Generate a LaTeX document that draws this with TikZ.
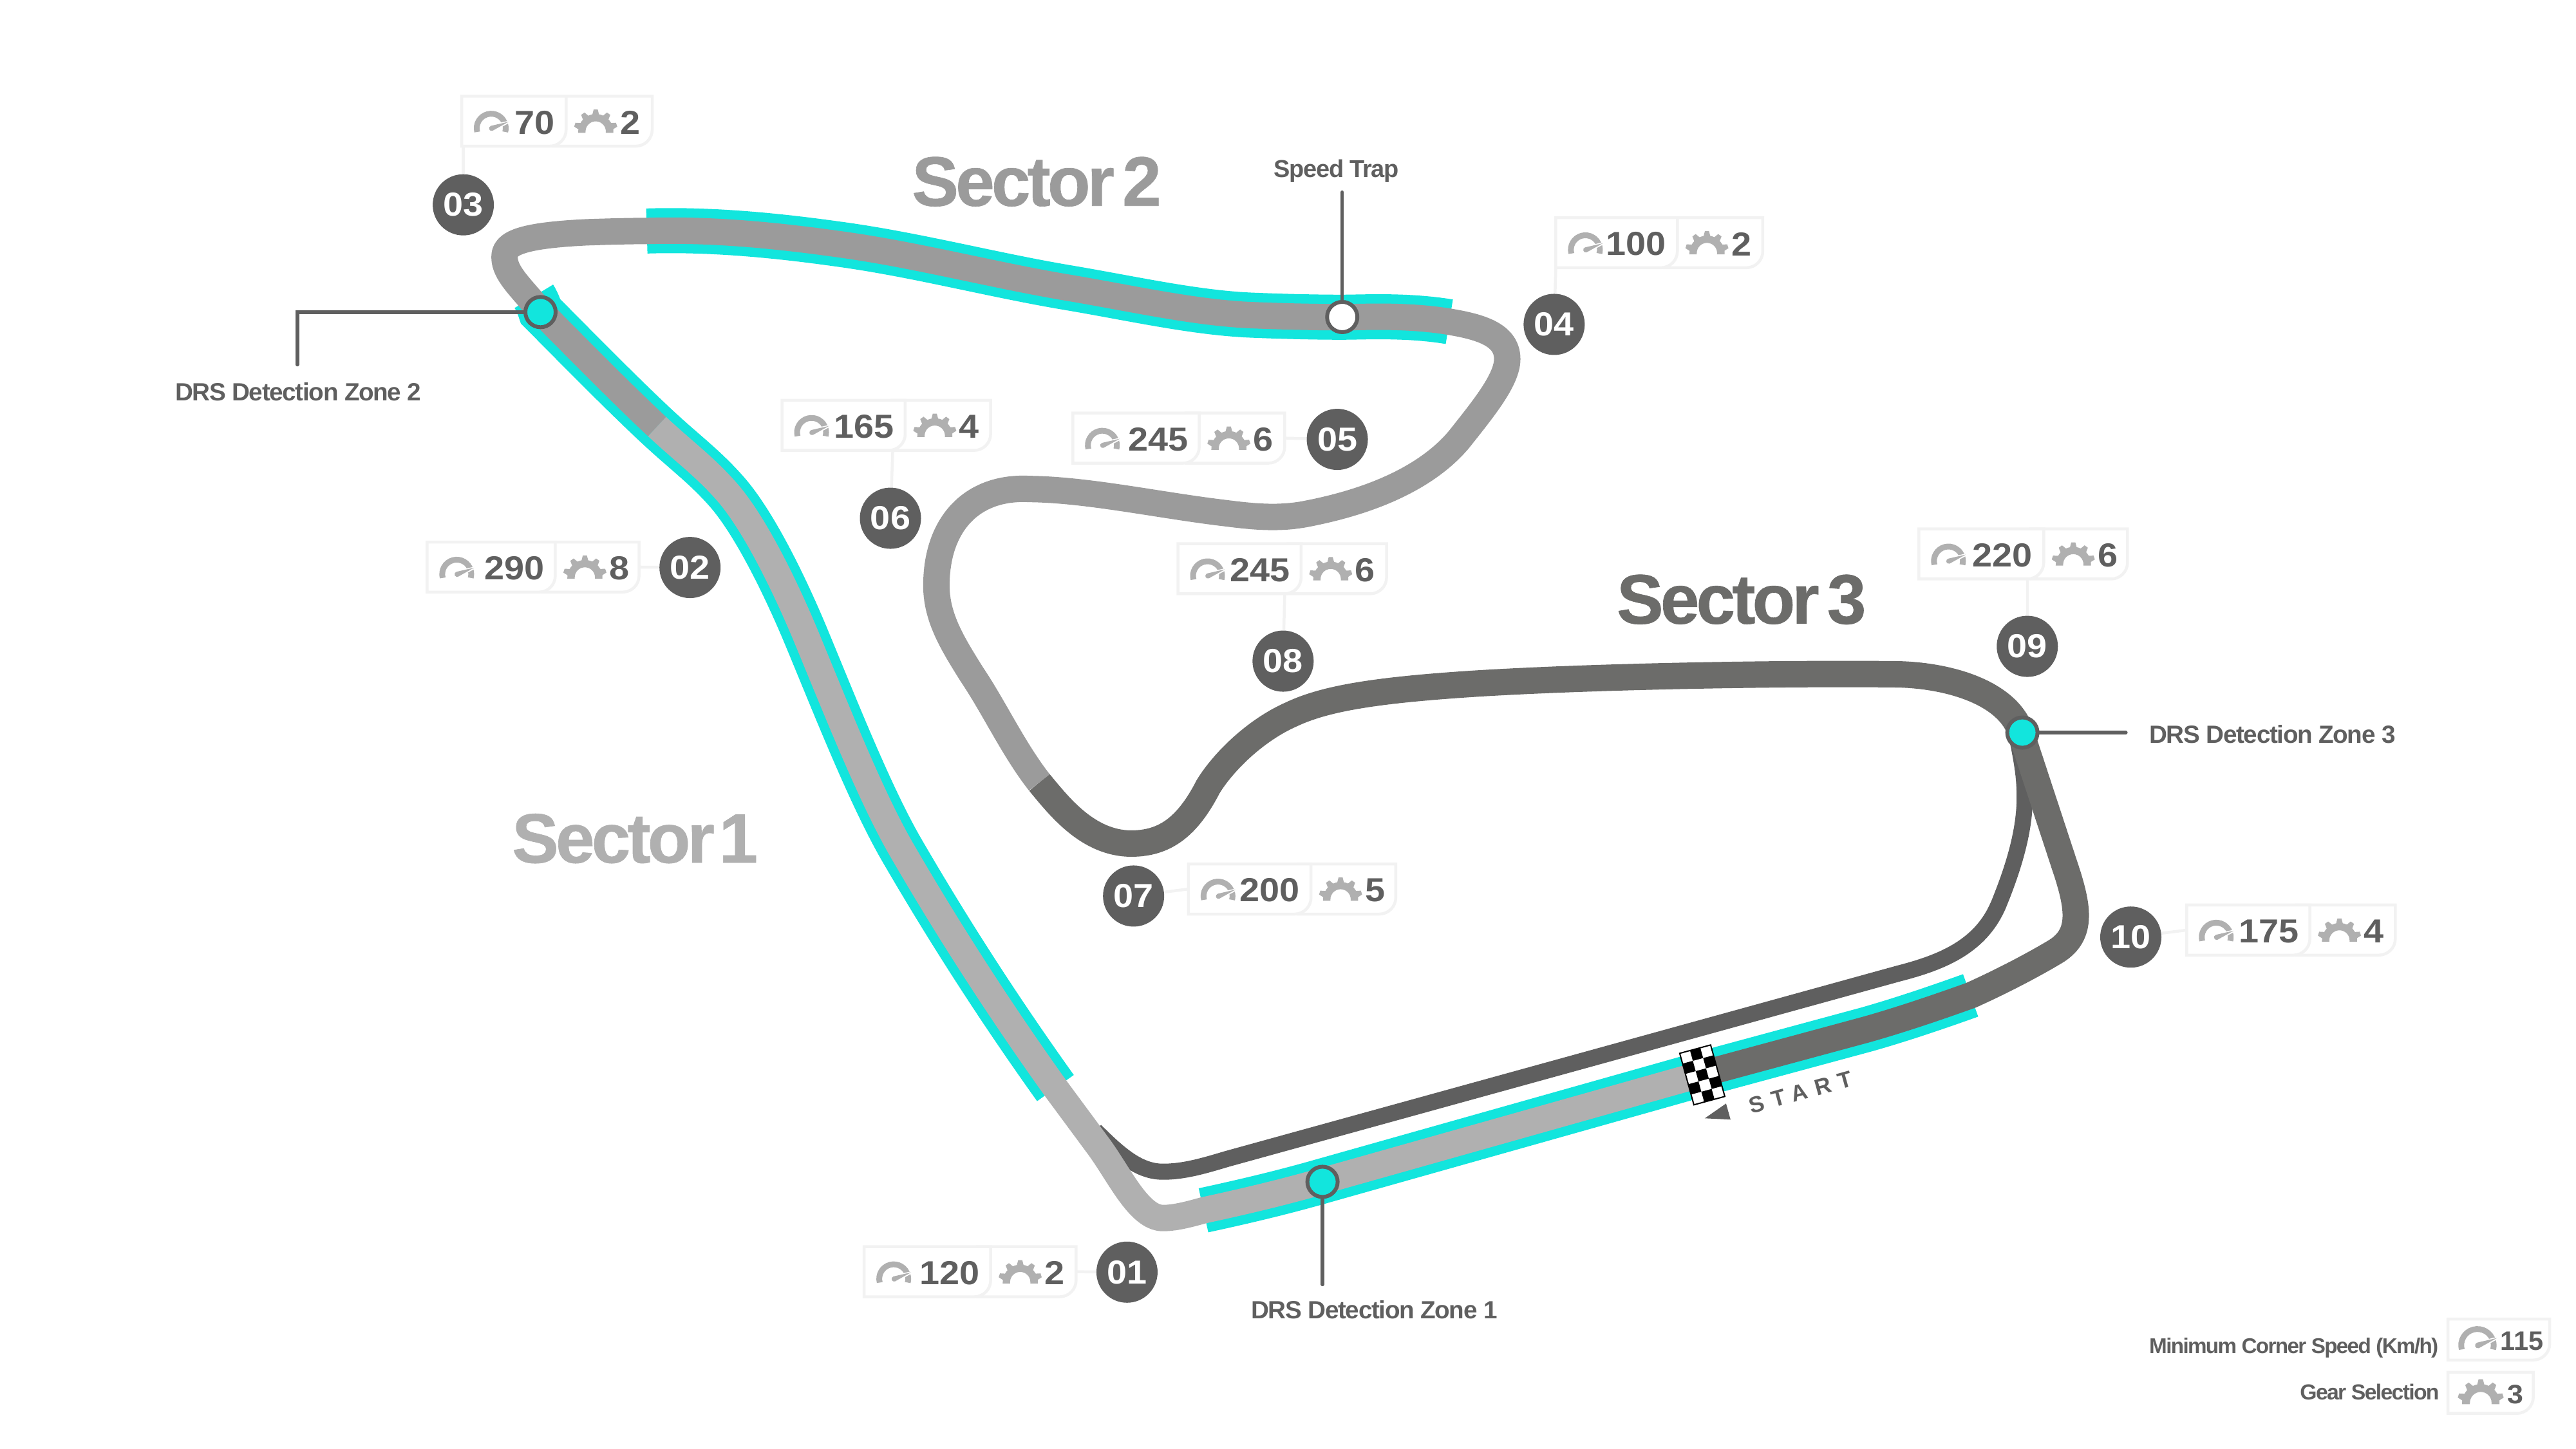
\documentclass[tikz,border=0pt]{standalone}
\usepackage{fontspec}
\setmainfont{Liberation Sans}
\newfontfamily\numf{Liberation Sans}[FakeStretch=1.08]
\newfontfamily\labf{Liberation Sans}[LetterSpace=-3.5]
\newfontfamily\legf{Liberation Sans}[LetterSpace=-5]
\newfontfamily\secf{Liberation Sans}[LetterSpace=-4.5,BoldFeatures={FakeBold=0.6}]
\newfontfamily\startf{Liberation Sans}[LetterSpace=36]
\definecolor{drs}{HTML}{12E5DD}
\definecolor{secA}{HTML}{B0B0B0}
\definecolor{secB}{HTML}{9B9B9B}
\definecolor{secC}{HTML}{6C6C6A}
\definecolor{dk}{HTML}{5F5F5F}
\definecolor{boxc}{HTML}{F2F2F2}
\tikzset{
  track/.style={line width=0.41cm,line cap=butt,line join=round},
  pitlane/.style={line width=0.25cm,line cap=butt,line join=round,draw=dk},
  drszone/.style={line width=0.70cm,draw=drs,line cap=butt},
  boxline/.style={draw=boxc,line width=0.045cm,fill=white},
  lead/.style={draw=boxc,line width=0.045cm},
  callout/.style={draw=dk,line width=0.055cm,line cap=round},
  turn/.style={circle,fill=dk,text=white,minimum size=0.95cm,inner sep=0pt,font=\numf\bfseries\fontsize{14.7}{16}\selectfont},
  marker/.style={circle,draw=dk,line width=0.06cm,minimum size=0.47cm,inner sep=0pt},
  num/.style={inner sep=0pt,text=dk,font=\numf\bfseries\fontsize{14.7}{16}\selectfont},
  lab/.style={inner sep=0pt,text=dk,font=\labf\bfseries\fontsize{10.8}{12}\selectfont},
  drslab/.style={inner sep=0pt,text=dk,font=\labf\bfseries\fontsize{11}{12}\selectfont},
  leg/.style={inner sep=0pt,text=dk,font=\legf\bfseries\fontsize{9.6}{11}\selectfont},
  sector/.style={inner sep=0pt,font=\secf\bfseries\fontsize{31}{33}\selectfont},
  pics/gauge/.style={code={
    \draw[secA,line width=0.09cm] (195:0.225cm) arc (195:-15:0.225cm);
    \draw[white,line width=0.03cm,fill=secA] (0.01cm,0.04cm) -- (0.29cm,0.105cm) -- (0.02cm,-0.04cm) -- cycle;
    \fill[secA] (0.01cm,0.04cm) -- (0.27cm,0.10cm) -- (0.02cm,-0.04cm) arc (-70:-250:0.04cm) -- cycle;
  }},
  pics/gear/.style={code={
    \fill[secA] (-0.26cm,-0.02cm) -- (-0.15cm,-0.02cm) -- (-0.15cm,0cm) arc (180:0:0.15cm) -- (0.15cm,-0.02cm) -- (0.26cm,-0.02cm) -- (0.26cm,0.03cm) arc (7:173:0.26cm) -- cycle;
    \foreach \a in {18,54,90,126,162}{
      \fill[secA,rotate=\a] (0.23cm,-0.055cm) -- (0.325cm,-0.03cm) -- (0.325cm,0.03cm) -- (0.23cm,0.055cm) -- cycle;
    }
  }}
}
\newcommand{\cellbox}[4]{%
  \pgfmathsetmacro{\cyA}{#4-10}\pgfmathsetmacro{\cyB}{#4-4.5}%
  \pgfmathsetmacro{\cxA}{#2-10}\pgfmathsetmacro{\cxB}{#2-4.5}%
  \draw[boxline] (#1,#3) -- (#2,#3) -- (#2,\cyA) .. controls (#2,\cyB) and (\cxB,#4) .. (\cxA,#4) -- (#1,#4) -- cycle;
}
% id, x0, xm, x1, ytop, speed, gear
\newcommand{\badge}[7]{%
  \pgfmathsetmacro{\yb}{#5+30.5}%
  \pgfmathsetmacro{\ym}{#5+15.25}%
  \pgfmathsetmacro{\xq}{#3-8}%
  \cellbox{\xq}{#4}{#5}{\yb}
  \cellbox{#2}{#3}{#5}{\yb}
  \coordinate (b#1r) at (#4,\ym);
  \coordinate (b#1l) at (#2,\ym);
  \pic at ({#2+18},{\ym+4.3}) {gauge};
  \pic[scale=1.05] at ({#3+18},{\ym+6.3}) {gear};
  \node[num,anchor=east] (s#1) at ({#3-6.5},{\ym+0.8}) {#6};
  \node[num] (g#1) at ({#3+39},{\ym+0.8}) {#7};
}
\begin{document}
\begin{tikzpicture}[x=0.025517cm,y=-0.025517cm]
\useasboundingbox (0,0) rectangle (1568,882.1);
\begin{scope}[x=0.01cm,y=-0.01cm]
% DRS zones
\draw[drszone] (3062,1547) .. controls (3020,1562) and (2960,1583) .. (2900,1600) -- (2645,1669) -- (2053,1836) .. controls (1990,1854) and (1930,1868) .. (1870,1881);
\draw[drszone] (1640,1691) .. controls (1560,1579) and (1480,1457) .. (1400,1319) .. controls (1350,1232) and (1295,1091) .. (1250,983) .. controls (1215,900) and (1170,811) .. (1130,765) .. controls (1095,725) and (1065,704) .. (1021,663) .. controls (961,607) and (882,526) .. (840,484) .. controls (838,478) and (835,469) .. (829.5,460.5);
\draw[drszone] (1005,359) .. controls (1100,356) and (1200,365) .. (1300,379) .. controls (1420,395) and (1540,427) .. (1659,447) .. controls (1760,464) and (1860,487) .. (1950,490) .. controls (2000,492) and (2050,493) .. (2084,493) .. controls (2120,493) and (2185,489) .. (2252,500);
% pit lane
\draw[pitlane] (1702,1757) .. controls (1740,1795) and (1770,1821) .. (1807,1821) .. controls (1840,1821) and (1870,1812) .. (1907,1801) -- (2950,1513) .. controls (3020,1495) and (3080,1470) .. (3107,1402) .. controls (3130,1345) and (3146,1290) .. (3146,1240) .. controls (3146,1210) and (3143,1190) .. (3135,1150);
% sector 3
\draw[track,draw=secC] (1615,1216) .. controls (1645,1252) and (1690,1311) .. (1758,1311) .. controls (1810,1311) and (1845,1285) .. (1877,1223) .. controls (1900,1185) and (1950,1135) .. (2007,1110) .. controls (2060,1085) and (2140,1072) .. (2300,1062) .. controls (2500,1050) and (2800,1046) .. (2950,1048) .. controls (3030,1050) and (3120,1077) .. (3140,1138) -- (3213,1360) .. controls (3230,1415) and (3235,1455) .. (3192,1480) .. controls (3150,1505) and (3100,1530) .. (3062,1547) .. controls (3020,1562) and (2960,1583) .. (2900,1600) -- (2645,1669);
% sector 2
\draw[track,draw=secB] (1021,663) .. controls (961,607) and (882,526) .. (840,484) .. controls (810,447) and (784,425) .. (784,400) .. controls (783,378) and (810,366) .. (912,361) .. controls (945,360) and (975,359) .. (1005,359) .. controls (1100,356) and (1200,365) .. (1300,379) .. controls (1420,395) and (1540,427) .. (1659,447) .. controls (1760,464) and (1860,487) .. (1950,490) .. controls (2000,492) and (2050,493) .. (2084,493) .. controls (2120,493) and (2185,489) .. (2252,500) .. controls (2300,508) and (2342,520) .. (2342,558) .. controls (2342,590) and (2305,635) .. (2267,683) .. controls (2225,733) and (2150,775) .. (2033,798) .. controls (1985,808) and (1940,802) .. (1900,797) .. controls (1800,785) and (1690,761) .. (1600,760) .. controls (1510,755) and (1455,815) .. (1455,910) .. controls (1455,960) and (1480,1000) .. (1510,1048) .. controls (1545,1100) and (1575,1165) .. (1615,1216);
% sector 1
\draw[track,draw=secA] (2645,1669) -- (2053,1836) .. controls (1990,1854) and (1930,1868) .. (1870,1881) .. controls (1845,1888) and (1825,1893) .. (1807,1893) .. controls (1770,1893) and (1740,1827) .. (1708,1783) -- (1640,1691) .. controls (1560,1579) and (1480,1457) .. (1400,1319) .. controls (1350,1232) and (1295,1091) .. (1250,983) .. controls (1215,900) and (1170,811) .. (1130,765) .. controls (1095,725) and (1065,704) .. (1021,663);
% flag
\begin{scope}[shift={(2610,1637)},x={(0.16cm,0.0433cm)},y={(0.044cm,-0.16cm)}]
  \fill[white] (0,0) -- (3,0) -- (3,5) -- (0,5) -- cycle;
  \foreach \i/\j in {1/0,0/1,2/1,1/2,0/3,2/3,1/4}{\fill[black] (\i,\j) -- ++(1,0) -- ++(0,1) -- ++(-1,0) -- cycle;}
  \draw[black,line width=0.02cm] (0,0) -- (3,0) -- (3,5) -- (0,5) -- cycle;
\end{scope}
\fill[dk] (2649,1738) -- (2682,1715) -- (2689,1740) -- cycle;
\end{scope}
\node[rotate=15.5,inner sep=0pt,text=dk,font=\startf\bfseries\fontsize{10}{12}\selectfont] (start) at (1096,665) {START};
% badges
\badge{03}{281}{344.6}{397}{58.5}{70}{2}
\badge{04}{947}{1021}{1073}{132.5}{100}{2}
\badge{05}{653}{730}{782}{251.5}{245}{6}
\badge{06}{476}{551}{603}{243.7}{165}{4}
\badge{02}{260}{338}{389}{330}{290}{8}
\badge{08}{717}{792}{844}{331}{245}{6}
\badge{09}{1168}{1244}{1295}{322}{220}{6}
\badge{07}{723.4}{798}{849.6}{526}{200}{5}
\badge{10}{1331}{1406}{1458}{551}{175}{4}
\badge{01}{526}{603}{655}{759}{120}{2}
% turn circles
\node[turn] (c03) at (282,124.7) {03};
\node[turn] (c04) at (946,197.5) {04};
\node[turn] (c05) at (814,267.5) {05};
\node[turn] (c06) at (542,315.5) {06};
\node[turn] (c02) at (420,345.5) {02};
\node[turn] (c08) at (781,402.5) {08};
\node[turn] (c09) at (1234,393.5) {09};
\node[turn] (c07) at (690,545.5) {07};
\node[turn] (c10) at (1297,570.5) {10};
\node[turn] (c01) at (686,774.5) {01};
% leads
\coordinate (a03) at (282,89); \draw[lead] (a03) -- (c03);
\coordinate (a04) at (947,163); \draw[lead] (a04) -- (c04);
\draw[lead] (b05r) -- (c05);
\coordinate (a06) at (543.4,274.5); \draw[lead] (a06) -- (c06);
\draw[lead] (b02r) -- (c02);
\coordinate (a08) at (782,361.5); \draw[lead] (a08) -- (c08);
\coordinate (a09) at (1234,352.5); \draw[lead] (a09) -- (c09);
\draw[lead] (c07) -- (b07l);
\draw[lead] (c10) -- (b10l);
\draw[lead] (b01r) -- (c01);
% DRS markers and callouts
\node[marker,fill=drs] (m1) at (805,719.5) {};
\node[marker,fill=drs] (m2) at (329,190) {};
\node[marker,fill=drs] (m3) at (1231,446) {};
\node[marker,fill=white] (trap) at (817,193) {};
\coordinate (e1) at (805,782);
\coordinate (e2a) at (181,190);
\coordinate (e2) at (181,222);
\coordinate (e3) at (1294,446);
\coordinate (e4) at (817,117);
\draw[callout] (m1) -- (e1);
\draw[callout] (m2) -- (e2a) -- (e2);
\draw[callout] (m3) -- (e3);
\draw[callout] (trap) -- (e4);
\node[drslab] (l1) at (836.5,797.5) {DRS Detection Zone 1};
\node[drslab] (l2) at (181.5,238.5) {DRS Detection Zone 2};
\node[drslab,anchor=west] (l3) at (1308,447) {DRS Detection Zone 3};
\node[lab] (l4) at (813.5,104.3) {Speed Trap};
% sectors
\node[sector,text=secA] (s1) at (386.5,510.5) {Sector\hspace{-0.17em} 1};
\node[sector,text=secB] (s2) at (631,110.6) {Sector\hspace{-0.12em} 2};
\node[sector,text=secC] (s3) at (1060,365) {Sector\hspace{-0.12em} 3};
% legend
\node[leg,anchor=east,font=\legf\bfseries\fontsize{9.45}{11}\selectfont] (lg1) at (1484.5,820.5) {Minimum Corner Speed (Km/h)};
\node[leg,anchor=east] (lg2) at (1485,847.5) {Gear Selection};
\cellbox{1490}{1552}{803}{828}
\cellbox{1490}{1542}{835.5}{860.5}
\pic[scale=1.12] at (1508,819) {gauge};
\pic[scale=1.12] at (1510,854) {gear};
\node[num,font=\bfseries\fontsize{11.8}{14}\selectfont] (v1) at (1535,816.5) {115};
\node[num,font=\numf\bfseries\fontsize{11.8}{14}\selectfont] (v2) at (1531,849) {3};
\end{tikzpicture}
\end{document}
